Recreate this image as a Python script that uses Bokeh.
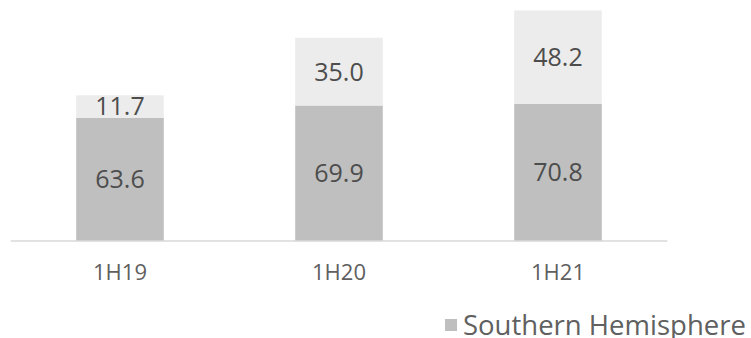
from bokeh.plotting import figure
from bokeh.models import ColumnDataSource, Range1d, LabelSet, Legend, LegendItem
from bokeh.core.properties import value
from bokeh.embed import file_html
from bokeh.resources import INLINE

periods = ["1H19", "1H20", "1H21"]
southern = [63.6, 69.9, 70.8]
second_series = [11.7, 35.0, 48.2]
legend_label = "Southern Hemisphere"

colors = ["#bfbfbf", "#ececec"]
FONT = "Open Sans"

xpos = [i + 0.5 for i in range(len(periods))]
src = ColumnDataSource(dict(
    x=xpos,
    period=periods,
    base=[0] * len(periods),
    southern=southern,
    second=second_series,
    south_mid=[v / 2 for v in southern],
    second_mid=[a + b / 2 for a, b in zip(southern, second_series)],
    south_txt=["{:.1f}".format(v) for v in southern],
    second_txt=["{:.1f}".format(v) for v in second_series],
))

# layout (pixels)
W, H = 751, 338
left = 10
cat_px = 219.0
base_px = 240.5
px_per_unit = 1.937

p = figure(
    x_range=Range1d(0, (W - left) / cat_px),
    y_range=Range1d(-(H - base_px) / px_per_unit, base_px / px_per_unit),
    width=W, height=H,
    output_backend="svg", toolbar_location=None,
    x_axis_location=None, y_axis_location=None,
    min_border_left=left, min_border_right=0,
    min_border_top=0, min_border_bottom=0,
)

rs = p.vbar_stack(["southern", "second"], x="x", width=0.4, source=src,
                  color=colors, line_color=None)

# baseline (category axis line)
p.segment(x0=[0], y0=[0], x1=[len(periods)], y1=[0],
          line_color="#d9d9d9", line_width=1.5)

for ycol, tcol in (("south_mid", "south_txt"), ("second_mid", "second_txt")):
    p.add_layout(LabelSet(x="x", y=ycol, text=tcol, source=src,
                          text_align="center", text_baseline="middle",
                          text_font=value(FONT), text_font_size="25px",
                          text_color="#4d4d4d"))

# category labels under the baseline
p.add_layout(LabelSet(x="x", y="base", text="period", source=src,
                      y_offset=-38.5, text_align="center",
                      text_baseline="alphabetic",
                      text_font=value(FONT), text_font_size="22px",
                      text_color="#606060"))

p.xgrid.visible = False
p.ygrid.visible = False
p.outline_line_color = None
p.background_fill_color = "white"
p.border_fill_color = "white"

legend = Legend(
    items=[LegendItem(label=legend_label, renderers=[rs[0]])],
    location=(433, -5),
    glyph_width=15, glyph_height=15, label_standoff=5,
    padding=0, margin=0, spacing=0,
    border_line_color=None, background_fill_alpha=0,
    label_text_font=FONT, label_text_font_size="27.5px",
    label_text_color="#606060",
)
p.add_layout(legend, "center")

open("out.html", "w").write(file_html(p, INLINE))
